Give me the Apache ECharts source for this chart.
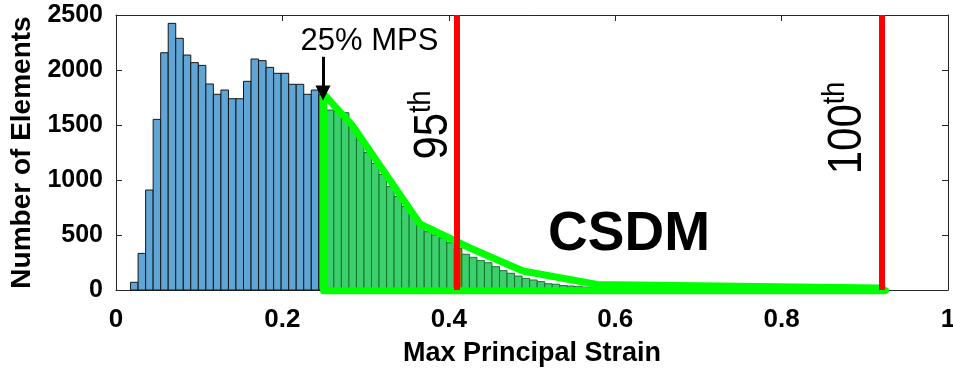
<!DOCTYPE html>
<html>
<head>
<meta charset="utf-8">
<script src="https://cdn.jsdelivr.net/npm/echarts@6/dist/echarts.min.js"></script>
<style>
  html, body { margin: 0; padding: 0; background: #ffffff; }
  #chart { width: 953px; height: 370px; }
</style>
</head>
<body>
<div id="chart"></div>
<script>
// ---- Histogram definition (100 equal bins) ----
const binStart = 0.0175;
const binWidth = 0.00905;
const counts = [
  70, 333, 909, 1551, 2157, 2424, 2288, 2136, 2067, 2042,
  1873, 1779, 1818, 1739, 1739, 1897, 2100, 2085, 2024, 1970,
  1970, 1870, 1870, 1779, 1818, 1775, 1636, 1625, 1612, 1480,
  1364, 1250, 1150, 1050, 940, 850, 760, 680, 600, 530,
  500, 473, 430, 380, 325, 297, 267, 248, 212, 176,
  152, 127, 106, 91, 76, 57, 52, 40, 36, 30,
  26, 22, 19, 16, 14, 12, 10, 9, 8, 7,
  6, 5, 5, 4, 4, 3, 3, 3, 2, 2,
  2, 2, 1, 1, 1, 1, 1, 1, 0, 1,
  0, 0, 1, 0, 0, 0, 1, 0, 0, 1
];

// ---- Key strain values ----
const mps25 = 0.2495;   // 25% MPS threshold
const p95 = 0.4095;     // 95th percentile
const p100 = 0.922;     // 100th percentile

// ---- CSDM outline polygon (strain, count) ----
const csdmX = [0.2495, 0.2837, 0.3654, 0.4255, 0.4892, 0.5781, 0.9180, 0.9250, 0.2495, 0.2495];
const csdmY = [1782, 1500, 600, 382, 173, 50, 18, -6, -6, 1782];

// ---- Arrow (25% MPS marker) ----
const arrowX = 0.2488;
const arrowY = [2120, 1790];

// ---- Axis ticks ----
const yTicks = [0, 500, 1000, 1500, 2000, 2500];
const xTicks = [0, 0.2, 0.4, 0.6, 0.8, 1];

// ---- Text ----
const xTitle = 'Max Principal Strain';
const yTitle = 'Number of Elements';

const binData = counts.map((c, i) => [binStart + binWidth * i, binStart + binWidth * (i + 1), c]);
const polyData = csdmX.map((x, i) => [x, csdmY[i]]);

const FONT = "'Liberation Sans', Arial, Helvetica, sans-serif";
const AXC = '#262626';

const chart = echarts.init(document.getElementById('chart'), null, { renderer: 'canvas' });

function axisCommon(show) {
  return {
    axisLine: { show: true, onZero: false, lineStyle: { color: AXC, width: 1 } },
    axisTick: { show: true, inside: true, length: 6, lineStyle: { color: AXC, width: 1 } },
    splitLine: { show: false },
    axisLabel: show ? {} : { show: false }
  };
}

const option = {
  animation: false,
  backgroundColor: '#ffffff',
  grid: { left: 116, right: 5, top: 15, bottom: 80, containLabel: false, outerBoundsMode: 'none' },
  xAxis: [
    Object.assign(axisCommon(true), {
      type: 'value', min: xTicks[0], max: xTicks[xTicks.length - 1], interval: 0.2, position: 'bottom',
      axisLabel: { show: true, fontSize: 26, fontWeight: 'bold', color: '#000', fontFamily: FONT, margin: 17,
        formatter: v => String(v) },
      name: xTitle, nameLocation: 'middle', nameGap: 50,
      nameTextStyle: { fontSize: 27, fontWeight: 'bold', color: '#000', fontFamily: FONT }
    }),
    Object.assign(axisCommon(false), {
      type: 'value', min: xTicks[0], max: xTicks[xTicks.length - 1], interval: 0.2, position: 'top'
    })
  ],
  yAxis: [
    Object.assign(axisCommon(true), {
      type: 'value', min: yTicks[0], max: yTicks[yTicks.length - 1], interval: 500, position: 'left',
      axisLabel: { show: true, fontSize: 25, fontWeight: 'bold', color: '#000', fontFamily: FONT, margin: 13,
        formatter: v => String(v) },
      name: yTitle, nameLocation: 'middle', nameGap: 80, nameRotate: 90,
      nameTextStyle: { fontSize: 28, fontWeight: 'bold', color: '#000', fontFamily: FONT }
    }),
    Object.assign(axisCommon(false), {
      type: 'value', min: yTicks[0], max: yTicks[yTicks.length - 1], interval: 500, position: 'right'
    })
  ],
  series: [
    {
      type: 'line', name: 'percentiles', data: [], z: 1, silent: true,
      markLine: {
        silent: true, symbol: ['none', 'none'], animation: false,
        label: { show: false },
        lineStyle: { color: '#ff0000', width: 6, type: 'solid' },
        data: [{ xAxis: p95 }, { xAxis: p100 }]
      }
    },
    {
      type: 'custom', name: 'histogram', z: 2, silent: true,
      data: binData,
      encode: { x: [0, 1], y: 2 },
      renderItem: function (params, api) {
        const x0 = api.value(0), x1 = api.value(1), v = api.value(2);
        if (v <= 0) return null;
        const pTop = api.coord([x0, v]);
        const pBot = api.coord([x1, 0]);
        const center = (x0 + x1) / 2;
        let fill = '#5fa6d7', stroke = '#161616';
        if (center > mps25) { fill = '#3bcf6d'; stroke = '#147628'; }
        if (x0 <= p95 && x1 > p95) { fill = '#8a7f12'; stroke = '#3d4a10'; }
        return {
          type: 'rect',
          shape: { x: pTop[0], y: pTop[1], width: pBot[0] - pTop[0], height: pBot[1] - pTop[1] },
          style: { fill: fill, stroke: stroke, lineWidth: 1 }
        };
      }
    },
    {
      type: 'line', name: 'CSDM', z: 3, silent: true, clip: false,
      data: polyData, showSymbol: false, symbol: 'none',
      lineStyle: { color: '#00ff00', width: 7, cap: 'round', join: 'round' }
    },
    {
      type: 'line', name: 'arrow', data: [], z: 4, silent: true,
      markLine: {
        silent: true, animation: false,
        symbol: ['none', 'triangle'], symbolSize: [15, 15],
        label: { show: false },
        lineStyle: { color: '#000', width: 3, type: 'solid' },
        data: [[{ coord: [arrowX, arrowY[0]] }, { coord: [arrowX, arrowY[1]] }]]
      }
    }
  ]
};

chart.setOption(option);

// ---- Annotations anchored in data coordinates ----
function px(x, y) { return chart.convertToPixel({ xAxisIndex: 0, yAxisIndex: 0 }, [x, y]); }
const pMps = px(0.3047, 2264);
const p95t = px(0.3798, 1500);
const p100t = px(0.8774, 1473);
const pCsdm = px(0.6166, 500);

const supRich = {
  b: { fontSize: 42, fontFamily: FONT, color: '#000', verticalAlign: 'bottom' },
  s: { fontSize: 27, fontFamily: FONT, color: '#000', verticalAlign: 'top', padding: [0, 0, 18, 0] }
};

chart.setOption({
  graphic: [
    { type: 'text', x: pMps[0], y: pMps[1], z: 10, silent: true,
      style: { text: '25% MPS', fontSize: 31, fontFamily: FONT, fill: '#000', align: 'center', verticalAlign: 'middle' } },
    { type: 'text', x: p95t[0], y: p95t[1], rotation: Math.PI / 2, scaleY: 1.15, z: 10, silent: true,
      style: { text: '{b|95}{s|th}', rich: supRich, align: 'center', verticalAlign: 'middle' } },
    { type: 'text', x: p100t[0], y: p100t[1], rotation: Math.PI / 2, scaleY: 1.15, z: 10, silent: true,
      style: { text: '{b|100}{s|th}', rich: supRich, align: 'center', verticalAlign: 'middle' } },
    { type: 'text', x: pCsdm[0], y: pCsdm[1], z: 10, silent: true,
      style: { text: 'CSDM', fontSize: 55, fontWeight: 'bold', fontFamily: FONT, fill: '#000', align: 'center', verticalAlign: 'middle' } }
  ]
});
</script>
</body>
</html>
